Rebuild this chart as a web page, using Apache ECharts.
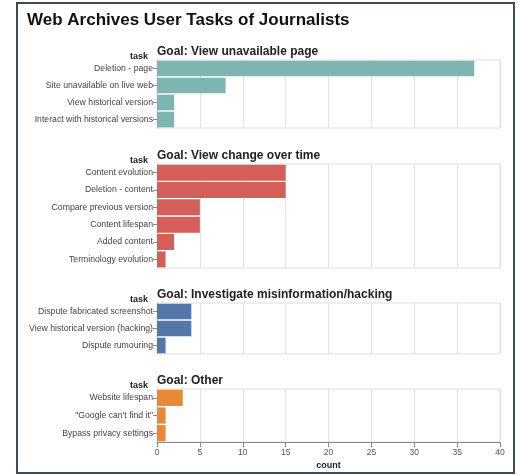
<!DOCTYPE html>
<html>
<head>
<meta charset="utf-8">
<script src="https://cdn.jsdelivr.net/npm/echarts@6/dist/echarts.min.js"></script>
<style>
html,body{margin:0;padding:0;background:#fff;}
#c{width:520px;height:476px;}
</style>
</head>
<body>
<div id="c"></div>
<script>
const chartTitle = 'Web Archives User Tasks of Journalists';
const goals = ['Goal: View unavailable page', 'Goal: View change over time', 'Goal: Investigate misinformation/hacking', 'Goal: Other'];
const tasks1 = ['Deletion - page', 'Site unavailable on live web', 'View historical version', 'Interact with historical versions'];
const counts1 = [37, 8, 2, 2];
const tasks2 = ['Content evolution', 'Deletion - content', 'Compare previous version', 'Content lifespan', 'Added content', 'Terminology evolution'];
const counts2 = [15, 15, 5, 5, 2, 1];
const tasks3 = ['Dispute fabricated screenshot', 'View historical version (hacking)', 'Dispute rumouring'];
const counts3 = [4, 4, 1];
const tasks4 = ['Website lifespan', '"Google can\'t find it"', 'Bypass privacy settings'];
const counts4 = [3, 1, 1];
const xTicks = [0, 5, 10, 15, 20, 25, 30, 35, 40];

const colors = ['#7fb5b0', '#d45e5a', '#5277a8', '#e8893a'];
const taskLists = [tasks1, tasks2, tasks3, tasks4];
const countLists = [counts1, counts2, counts3, counts4];
const layout = [
  {top: 60, height: 68},
  {top: 164, height: 104},
  {top: 303, height: 51},
  {top: 389, height: 53}
];
const FONT = '"Liberation Sans", Arial, sans-serif';

const grids = [], xAxes = [], yAxes = [], series = [], titles = [];
titles.push({text: chartTitle, left: 27, top: 12, padding: 0, textStyle: {fontFamily: FONT, fontSize: 17, fontWeight: 'bold', color: '#111'}});
layout.forEach((l, i) => {
  grids.push({left: 157, top: l.top, width: 343, height: l.height, show: true, borderColor: '#ddd', borderWidth: 1, backgroundColor: 'transparent'});
  const last = i === layout.length - 1;
  xAxes.push({
    gridIndex: i, type: 'value', min: 0, max: 40, interval: 5,
    axisLine: {show: last, lineStyle: {color: '#888'}},
    axisTick: {show: last, length: 5, lineStyle: {color: '#888'}},
    axisLabel: {show: last, fontFamily: FONT, fontSize: 8.5, color: '#555', margin: 6,
      formatter: v => xTicks.includes(v) ? String(v) : ''},
    splitLine: {show: true, lineStyle: {color: '#e2e2e2'}},
    name: last ? 'count' : '', nameLocation: 'middle', nameGap: 19,
    nameTextStyle: {fontFamily: FONT, fontSize: 9, fontWeight: 'bold', color: '#222'}
  });
  yAxes.push({
    gridIndex: i, type: 'category', data: taskLists[i], inverse: true,
    axisLine: {show: true, lineStyle: {color: '#ccc'}},
    axisTick: {show: true, alignWithLabel: true, length: 4, lineStyle: {color: '#888'}},
    axisLabel: {fontFamily: FONT, fontSize: 8.7, color: '#444', margin: 4},
    splitLine: {show: false}
  });
  series.push({
    type: 'bar', xAxisIndex: i, yAxisIndex: i, data: countLists[i],
    barCategoryGap: '8%', itemStyle: {color: colors[i]}, silent: true
  });
  titles.push({text: goals[i], left: 157, top: l.top - 14, padding: 0, textStyle: {fontFamily: FONT, fontSize: 12, fontWeight: 'bold', color: '#222'}});
  titles.push({text: 'task', left: 148, top: l.top - 8, padding: 0, textAlign: 'right', textStyle: {fontFamily: FONT, fontSize: 9, fontWeight: 'bold', color: '#222'}});
});

const chart = echarts.init(document.getElementById('c'), null, {renderer: 'canvas'});
chart.setOption({
  animation: false,
  backgroundColor: '#fff',
  title: titles,
  grid: grids,
  xAxis: xAxes,
  yAxis: yAxes,
  series: series,
  graphic: [{type: 'rect', shape: {x: 17, y: 3, width: 497, height: 470}, style: {fill: 'none', stroke: '#3d4b57', lineWidth: 2}, silent: true}]
});
</script>
</body>
</html>
